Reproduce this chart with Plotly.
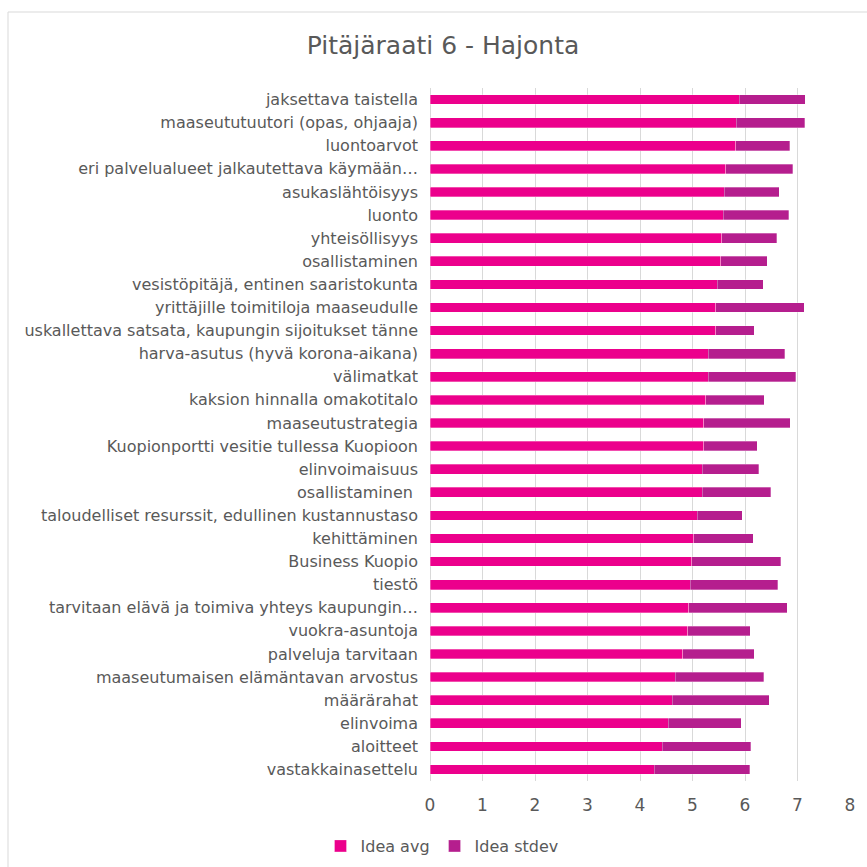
import plotly.graph_objects as go

categories = [
    "jaksettava taistella",
    "maaseututuutori (opas, ohjaaja)",
    "luontoarvot",
    "eri palvelualueet jalkautettava käymään…",
    "asukaslähtöisyys",
    "luonto",
    "yhteisöllisyys",
    "osallistaminen",
    "vesistöpitäjä, entinen saaristokunta",
    "yrittäjille toimitiloja maaseudulle",
    "uskallettava satsata, kaupungin sijoitukset tänne",
    "harva-asutus (hyvä korona-aikana)",
    "välimatkat",
    "kaksion hinnalla omakotitalo",
    "maaseutustrategia",
    "Kuopionportti vesitie tullessa Kuopioon",
    "elinvoimaisuus",
    "osallistaminen ",
    "taloudelliset resurssit, edullinen kustannustaso",
    "kehittäminen",
    "Business Kuopio",
    "tiestö",
    "tarvitaan elävä ja toimiva yhteys kaupungin…",
    "vuokra-asuntoja",
    "palveluja tarvitaan",
    "maaseutumaisen elämäntavan arvostus",
    "määrärahat",
    "elinvoima",
    "aloitteet",
    "vastakkainasettelu",
]

idea_avg = [5.89, 5.83, 5.82, 5.63, 5.60, 5.59, 5.56, 5.54, 5.47, 5.44,
            5.44, 5.30, 5.30, 5.25, 5.21, 5.21, 5.19, 5.19, 5.09, 5.02,
            4.99, 4.96, 4.93, 4.91, 4.81, 4.67, 4.61, 4.54, 4.42, 4.27]

idea_stdev = [1.26, 1.31, 1.03, 1.28, 1.05, 1.24, 1.04, 0.88, 0.88, 1.69,
              0.74, 1.46, 1.67, 1.12, 1.65, 1.02, 1.07, 1.30, 0.86, 1.14,
              1.69, 1.66, 1.87, 1.19, 1.37, 1.69, 1.85, 1.39, 1.69, 1.82]

x_ticks = [0, 1, 2, 3, 4, 5, 6, 7, 8]

C_AVG = "#EC008C"
C_STD = "#B51E8E"
TXT = "#595959"
FONT = "DejaVu Sans"

fig = go.Figure()
fig.add_trace(go.Bar(y=categories, x=idea_avg, orientation="h", name="Idea avg",
                     marker=dict(color=C_AVG, line=dict(color="rgba(255,255,255,0.6)", width=0.5))))
fig.add_trace(go.Bar(y=categories, x=idea_stdev, orientation="h", name="Idea stdev",
                     marker=dict(color=C_STD, line=dict(color="rgba(255,255,255,0.6)", width=0.5))))

L, R, T, B = 430, 850, 88, 781
W = H = 867
pw, ph = R - L, B - T

def px(x):
    return (x - L) / pw

def py(y):
    return (B - y) / ph

fig.update_layout(
    width=W, height=H,
    barmode="stack",
    bargap=0.58,
    margin=dict(l=L, r=W - R, t=T, b=H - B, autoexpand=False),
    paper_bgcolor="white",
    plot_bgcolor="white",
    font=dict(family=FONT, color=TXT),
    title=dict(text="Pitäjäraati 6 - Hajonta", x=px(443), xanchor="center", xref="paper",
               y=1 - 45 / H, yanchor="middle", font=dict(size=25, color=TXT, family=FONT)),
    xaxis=dict(range=[0, 8], tickvals=x_ticks, showgrid=True, gridcolor="#D9D9D9",
               gridwidth=1, zeroline=True, zerolinecolor="#D9D9D9", zerolinewidth=1,
               showline=False, tickfont=dict(size=17, color=TXT), ticks="", ticklen=0,
               ticklabelstandoff=12, automargin=False),
    yaxis=dict(autorange="reversed", tickfont=dict(size=16, color=TXT), ticks="",
               showgrid=False, ticklabelstandoff=11, automargin=False),
    legend=dict(orientation="h", x=442 / W, xref="container", xanchor="center",
                y=(H - 846) / H, yref="container", yanchor="middle",
                font=dict(size=16, color=TXT), traceorder="normal", itemwidth=30),
    shapes=[dict(type="rect", xref="paper", yref="paper", x0=px(8), x1=px(900),
                 y0=py(900), y1=py(12), line=dict(color="#D9D9D9", width=1),
                 fillcolor="rgba(0,0,0,0)", layer="below")],
)

fig.write_html("out.html", config={"displayModeBar": False},
               post_script="document.body.style.margin='0';")
